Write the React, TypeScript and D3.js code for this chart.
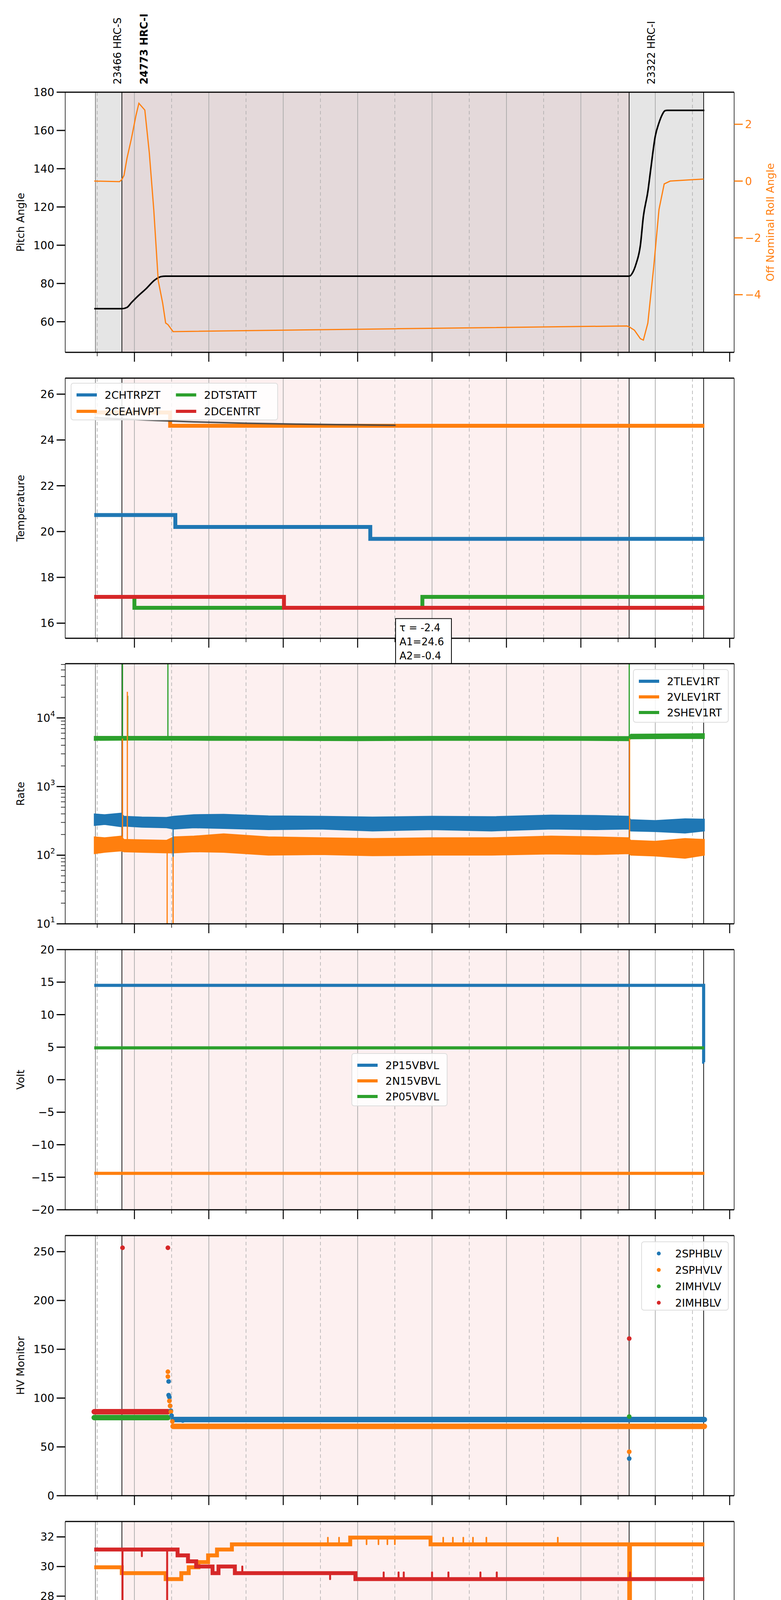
import React from "react";
import * as d3 from "d3";

// ---------- time markers (decimal hours, 2021-05-30) ----------
const obsStart = 13.476, obsA = 13.832, obsB = 20.649, obsEnd = 21.65;
const obsLabels = ["23466 HRC-S", "24773 HRC-I", "23322 HRC-I"];
const obsLabelTimes = [13.476, 13.832, 20.649];
const hourTicks = [14, 15, 16, 17, 18, 19, 20, 21, 22];
const halfTicks = [13.5, 14.5, 15.5, 16.5, 17.5, 18.5, 19.5, 20.5, 21.5];

// ---------- Panel 1: pitch / roll ----------
const pitchT = [13.46, 13.83, 13.9, 13.96, 14.05, 14.15, 14.28, 14.36, 14.42, 20.65, 20.7, 20.74, 20.8, 20.84, 20.9, 20.94, 21.0, 21.05, 21.09, 21.13, 21.16, 21.66];
const pitchV = [66.8, 66.8, 67.5, 70, 73.5, 77, 82, 83.6, 83.8, 83.8, 86, 90, 100, 115, 128, 140, 157, 164, 168, 170.3, 170.5, 170.5];
const rollT = [13.46, 13.8, 13.83, 13.86, 13.9, 13.96, 14.02, 14.06, 14.14, 14.2, 14.26, 14.32, 14.38, 14.42, 14.45, 14.52, 17.5, 20.62, 20.66, 20.72, 20.8, 20.84, 20.9, 20.98, 21.05, 21.12, 21.2, 21.5, 21.65];
const rollV = [0.0, -0.02, 0.05, 0.2, 0.8, 1.5, 2.3, 2.74, 2.5, 1.0, -1.0, -3.5, -4.3, -5.0, -5.05, -5.3, -5.2, -5.1, -5.15, -5.25, -5.55, -5.6, -5.0, -3.0, -1.0, -0.1, 0.0, 0.05, 0.07];

// ---------- Panel 2: temperature ----------
const tempNames = ["2CHTRPZT", "2CEAHVPT", "2DTSTATT", "2DCENTRT"];
const chtrT = [13.46, 14.55, 17.17, 21.66];
const chtrV = [20.72, 20.2, 19.68, 19.68];
const ceahT = [13.46, 14.48, 21.66];
const ceahV = [25.2, 24.62, 24.62];
const dtstT = [13.46, 14.0, 17.87, 21.66];
const dtstV = [17.15, 16.67, 17.15, 17.15];
const dcenT = [13.46, 16.01, 21.66];
const dcenV = [17.15, 16.67, 16.67];
const fitT = [13.46, 13.8, 14.3, 14.8, 15.5, 16.2, 17.0, 17.51];
const fitV = [24.97, 24.92, 24.85, 24.79, 24.73, 24.69, 24.66, 24.64];
const fitText = ["τ = -2.4", "A1=24.6", "A2=-0.4"];
const fitBoxT = 17.51;

// ---------- Panel 3: rates (envelopes of the noisy traces) ----------
const rateNames = ["2TLEV1RT", "2VLEV1RT", "2SHEV1RT"];
const blueBandT = [13.46, 13.6, 13.82, 13.86, 14.1, 14.43, 14.53, 14.8, 15.2, 15.8, 16.5, 17.2, 18.0, 18.8, 19.6, 20.2, 20.64, 20.67, 21.0, 21.4, 21.66];
const blueLo = [270, 280, 260, 265, 255, 250, 240, 250, 245, 235, 240, 225, 235, 225, 240, 235, 240, 225, 220, 210, 225];
const blueHi = [400, 390, 410, 370, 360, 355, 370, 390, 395, 375, 370, 360, 370, 365, 385, 380, 370, 330, 320, 340, 335];
const orangeBandT = [13.46, 13.6, 13.82, 13.86, 14.1, 14.43, 14.53, 14.8, 15.2, 15.8, 16.5, 17.2, 18.0, 18.8, 19.6, 20.2, 20.64, 20.67, 21.0, 21.4, 21.66];
const orangeLo = [105, 110, 115, 112, 110, 108, 108, 112, 110, 100, 102, 98, 100, 100, 104, 102, 105, 100, 97, 90, 100];
const orangeHi = [185, 180, 190, 170, 168, 165, 185, 190, 205, 185, 180, 175, 180, 180, 190, 185, 180, 165, 160, 175, 170];
const greenBandT = [13.46, 14.0, 15.0, 16.0, 17.0, 18.0, 19.0, 20.0, 20.64, 20.67, 21.2, 21.66];
const greenLo = [4700, 4750, 4700, 4700, 4650, 4700, 4700, 4700, 4650, 4950, 5000, 5000];
const greenHi = [5400, 5400, 5400, 5350, 5350, 5400, 5400, 5350, 5350, 5800, 5850, 5900];
const rateSpikeT = [13.84, 13.91, 14.45, 20.65, 13.84, 13.905, 14.44, 14.52, 20.655, 14.52];
const rateSpikeFrom = [5000, 5000, 5000, 5000, 150, 150, 140, 140, 140, 300];
const rateSpikeTo = [62000, 21000, 62000, 62000, 5000, 24000, 9, 9, 5000, 95];
const rateSpikeSeries = [2, 2, 2, 2, 1, 1, 1, 1, 1, 0];

// ---------- Panel 4: voltages ----------
const voltNames = ["2P15VBVL", "2N15VBVL", "2P05VBVL"];
const p15T = [13.46, 21.65, 21.66];
const p15V = [14.5, 2.7, 2.7];
const n15T = [13.46, 21.66];
const n15V = [-14.4, -14.4];
const p05T = [13.46, 21.66];
const p05V = [4.9, 4.9];

// ---------- Panel 5: HV monitor ----------
const hvNames = ["2SPHBLV", "2SPHVLV", "2IMHVLV", "2IMHBLV"];
const hvSegStart = [13.46, 13.46, 14.52, 14.52];
const hvSegEnd = [14.45, 14.45, 21.66, 21.66];
const hvSegV = [86, 80, 78, 71];
const hvSegSeries = [3, 2, 0, 1];
const hvPtT = [13.84, 14.45, 14.45, 14.45, 14.46, 14.46, 14.47, 14.47, 14.48, 14.48, 14.49, 14.49, 14.5, 14.51, 14.65, 20.65, 20.65, 20.65, 20.65];
const hvPtV = [254, 254, 127, 122, 117, 103, 101, 97, 92, 92, 87, 86, 82, 76, 77, 161, 81, 45, 38];
const hvPtSeries = [3, 3, 1, 1, 0, 0, 0, 1, 0, 1, 0, 1, 0, 1, 0, 3, 2, 1, 0];

// ---------- Panel 6: detector temps ----------
const detNames = ["2SPINATM", "2SPHVATM", "2IMINATM", "2IMHVATM"];
const spinT = [13.46, 16.74, 18.35, 21.66];
const spinV = [16.97, 16.3, 16.97, 16.97];
const spinSpT = [15.76, 16.02, 16.43, 16.52, 16.62, 18.46, 18.65, 18.78, 19.0];
const spinSpV = [16.3, 16.3, 16.3, 16.3, 16.3, 16.3, 16.3, 16.3, 16.3];
const sphvT = [13.46, 13.83, 14.42, 14.63, 14.73, 14.86, 14.99, 15.11, 15.31, 16.9, 17.98, 20.64, 20.65, 20.66, 21.66];
const sphvV = [29.95, 29.55, 29.15, 29.55, 29.95, 30.3, 30.75, 31.15, 31.5, 31.95, 31.5, 31.5, 18.6, 31.5, 31.5];
const sphvSpT = [14.98, 16.6, 16.75, 17.12, 17.28, 17.4, 17.5, 18.15, 18.28, 18.42, 18.55, 18.73, 19.69];
const sphvSpV = [30.3, 31.95, 31.95, 31.5, 31.5, 31.5, 31.5, 31.95, 31.95, 31.95, 31.95, 31.95, 31.95];
const iminT = [13.46, 14.63, 19.0, 19.24, 20.645, 20.655, 21.66];
const iminV = [17.6, 16.97, 17.6, 17.6, 15.3, 17.6, 17.6];
const iminSpT = [18.47, 19.06, 19.12, 19.18];
const iminSpV = [17.6, 16.97, 16.97, 16.97];
const imhvT = [13.46, 14.58, 14.72, 14.83, 15.05, 15.13, 15.35, 16.97, 21.66];
const imhvV = [31.15, 30.75, 30.35, 30.0, 29.55, 30.0, 29.55, 29.15, 29.15];
const imhvSpT = [13.84, 14.44, 14.1, 15.45, 16.63, 17.35, 17.55, 17.62, 18.0, 18.22, 18.65, 18.87, 20.66];
const imhvSpV = [15.3, 15.3, 30.7, 30.0, 29.15, 29.6, 29.6, 29.6, 29.6, 29.6, 29.6, 29.6, 29.6];

// ---------- Panel 7: FEA temps ----------
const feaNames = ["2FHTRMZT", "2FRADPYT", "2FEPRATM", "2FE00ATM"];
const fhtrT = [13.46, 15.64, 17.49, 19.81, 21.66];
const fhtrV = [18.15, 18.65, 19.15, 19.7, 19.7];
const fradT = [13.46, 13.99, 14.4, 14.67, 15.42, 17.03, 19.19, 21.35, 21.66];
const fradV = [13.42, 12.97, 13.42, 13.87, 14.3, 14.78, 15.25, 15.72, 15.72];
const feprT = [13.46, 15.98, 18.92, 21.66];
const feprV = [20.28, 20.97, 21.67, 21.67];
const feprSpT = [14.46];
const feprSpV = [19.0];
const fe00T = [13.46, 15.33, 16.64, 17.99, 18.1, 19.86, 21.6, 21.66];
const fe00V = [19.0, 19.27, 19.55, 19.55, 19.85, 20.15, 20.45, 20.45];
const fe00SpT = [13.84, 14.45, 20.65, 13.48, 13.7, 13.94, 15.02, 15.3, 16.05, 16.2, 16.43, 16.73, 17.9, 18.03, 18.07, 18.99, 19.09, 19.18, 19.28, 19.84, 19.93, 21.53,
  13.85, 14.01, 14.26, 14.63, 15.51, 15.91, 16.22, 16.94, 17.26, 17.41, 17.56, 17.99, 18.27, 18.48, 18.72, 18.92, 19.21, 19.62, 20.17, 20.28];
const fe00SpV = [12.5, 12.5, 23, 19.3, 19.6, 19.6, 19.6, 19.6, 19.6, 19.6, 20.2, 19.9, 19.9, 20.2, 20.5, 20.8, 20.8, 20.3, 20.8, 20.5, 20.5, 20.5,
  18.4, 18.1, 18.1, 18.4, 18.7, 18.7, 18.1, 19.0, 19.3, 19.3, 19.0, 17.2, 19.6, 19.6, 19.6, 19.3, 19.0, 19.3, 19.85, 19.85];

// ---------- layout ----------
const C = ["#1f77b4", "#ff7f0e", "#2ca02c", "#d62728"];
const FONT = "DejaVu Sans, sans-serif";
const L = 167, R = 1880, PH = 666;
const tops = [236, 968, 1699, 2431, 3163, 3895, 4627];
const x = d3.scaleLinear().domain([13.07, 22.06]).range([L, R]);

function stepVal(ts: number[], vs: number[], t: number) {
  let v = vs[0];
  for (let i = 0; i < ts.length; i++) if (ts[i] <= t) v = vs[i];
  return v;
}
const stepLine = (y: any) => d3.line<[number, number]>().x(d => x(d[0])).y(d => y(d[1])).curve(d3.curveStepAfter);
const smoothLine = (y: any) => d3.line<[number, number]>().x(d => x(d[0])).y(d => y(d[1])).curve(d3.curveMonotoneX);
const zip = (a: number[], b: number[]) => a.map((t, i) => [t, b[i]] as [number, number]);

function Background({ top, dark }: { top: number; dark?: boolean }) {
  const b = top + PH;
  return (
    <g>
      {dark ? (
        <>
          <rect x={x(obsStart)} y={top} width={x(obsEnd) - x(obsStart)} height={PH} fill="#e5e5e5" />
          <rect x={x(obsA)} y={top} width={x(obsB) - x(obsA)} height={PH} fill="#e4d9da" />
        </>
      ) : (
        <rect x={x(obsA)} y={top} width={x(obsB) - x(obsA)} height={PH} fill="#fdf0f0" />
      )}
      {hourTicks.filter(h => h < 22).map(h => <line key={h} x1={x(h)} x2={x(h)} y1={top} y2={b} stroke="#aaa" strokeWidth={1.8} />)}
      {halfTicks.map(h => <line key={h} x1={x(h)} x2={x(h)} y1={top} y2={b} stroke="#aaa" strokeWidth={1.5} strokeDasharray="9,7" />)}
      <line x1={x(obsStart)} x2={x(obsStart)} y1={top} y2={b} stroke="#777" strokeWidth={1.8} />
      {[obsA, obsB, obsEnd].map(t => <line key={t} x1={x(t)} x2={x(t)} y1={top} y2={b} stroke="#000" strokeWidth={1.8} />)}
    </g>
  );
}

function Frame({ top, y, ticks, label, fmt, log, last }: any) {
  const b = top + PH;
  const minor: number[] = [];
  if (log) for (let e = 1; e < 5; e++) for (let m = 2; m < 10; m++) { const v = m * Math.pow(10, e); if (v < y.domain()[1]) minor.push(v); }
  return (
    <g fontFamily={FONT}>
      <line x1={L} x2={R} y1={top} y2={top} stroke="#000" strokeWidth={3} />
      <line x1={L} x2={R} y1={b} y2={b} stroke="#000" strokeWidth={3} />
      <line x1={L} x2={L} y1={top} y2={b} stroke="#000" strokeWidth={1.5} />
      <line x1={R} x2={R} y1={top} y2={b} stroke="#000" strokeWidth={1.5} />
      {ticks.map((v: number) => (
        <g key={v}>
          <line x1={L - 22} x2={L} y1={y(v)} y2={y(v)} stroke="#000" strokeWidth={3} />
          {log ? (
            <text x={L - 26} y={y(v) + 10} textAnchor="end" fontSize={28}>10<tspan dy={-14} fontSize={19}>{Math.round(Math.log10(v))}</tspan></text>
          ) : (
            <text x={L - 28} y={y(v) + 10} textAnchor="end" fontSize={28}>{fmt ? fmt(v) : v}</text>
          )}
        </g>
      ))}
      {minor.map(v => <line key={v} x1={L - 11} x2={L} y1={y(v)} y2={y(v)} stroke="#000" strokeWidth={1.5} />)}
      {hourTicks.map(h => <line key={h} x1={x(h)} x2={x(h)} y1={b} y2={b + 24} stroke="#000" strokeWidth={2.5} />)}
      {halfTicks.map(h => <line key={h} x1={x(h)} x2={x(h)} y1={b} y2={b + 10} stroke="#000" strokeWidth={1.5} />)}
      {last && hourTicks.map(h => <text key={h} x={x(h)} y={b + 58} textAnchor="middle" fontSize={28}>{h}h</text>)}
      {last && halfTicks.map(h => <text key={h} x={x(h)} y={b + 36} textAnchor="middle" fontSize={17}>30</text>)}
      <text transform={`translate(${L - 105},${top + PH / 2}) rotate(-90)`} textAnchor="middle" fontSize={27}>{label}</text>
    </g>
  );
}

function Legend({ x0, y0, w, h, names, cols, dots, rowH }: any) {
  const perCol = Math.ceil(names.length / cols);
  const colW = (w - 20) / cols;
  return (
    <g fontFamily={FONT}>
      <rect x={x0} y={y0} width={w} height={h} rx={6} fill="#fff" fillOpacity={0.85} stroke="#ddd" strokeWidth={2} />
      {names.map((n: string, i: number) => {
        const c = Math.floor(i / perCol), r = i % perCol;
        const lx = x0 + 14 + c * colW, ly = y0 + 30 + r * rowH;
        return (
          <g key={n}>
            {dots ? <circle cx={lx + 30} cy={ly} r={5} fill={C[i]} /> : <line x1={lx} x2={lx + 52} y1={ly} y2={ly} stroke={C[i]} strokeWidth={8} />}
            <text x={lx + 72} y={ly + 10} fontSize={27}>{n}</text>
          </g>
        );
      })}
    </g>
  );
}

function spikes(ts: number[], vs: number[], baseT: number[], baseV: number[], y: any, color: string, w: number) {
  return ts.map((t, i) => (
    <line key={"s" + i} x1={x(t)} x2={x(t)} y1={y(stepVal(baseT, baseV, t))} y2={y(vs[i])} stroke={color} strokeWidth={w} strokeLinecap="round" />
  ));
}

export default function App() {
  const t1 = tops[0];
  const y1 = d3.scaleLinear().domain([44, 180]).range([t1 + PH, t1]);
  const y1r = d3.scaleLinear().domain([-6.03, 3.13]).range([t1 + PH, t1]);
  const t2 = tops[1];
  const y2 = d3.scaleLinear().domain([15.34, 26.7]).range([t2 + PH, t2]);
  const t3 = tops[2];
  const y3 = d3.scaleLog().domain([10, 61700]).range([t3 + PH, t3]).clamp(true);
  const t4 = tops[3];
  const y4 = d3.scaleLinear().domain([-20, 20]).range([t4 + PH, t4]);
  const t5 = tops[4];
  const y5 = d3.scaleLinear().domain([0, 266.5]).range([t5 + PH, t5]);
  const t6 = tops[5];
  const y6 = d3.scaleLinear().domain([15.48, 33.04]).range([t6 + PH, t6]).clamp(true);
  const t7 = tops[6];
  const y7 = d3.scaleLinear().domain([12.77, 22.48]).range([t7 + PH, t7]).clamp(true);

  const band = (ts: number[], lo: number[], hi: number[]) =>
    d3.area<number>().x(i => x(ts[i])).y0(i => y3(lo[i])).y1(i => y3(hi[i]))(ts.map((_, i) => i)) || "";

  const rateBands = [
    [blueBandT, blueLo, blueHi],
    [orangeBandT, orangeLo, orangeHi],
    [greenBandT, greenLo, greenHi],
  ];

  const fitX = x(fitBoxT);
  return (
    <div style={{ position: "absolute", left: 0, top: 0, width: 2000, height: 5400, overflow: "hidden", background: "#fff" }}>
    <svg width={2000} height={5400} style={{ display: "block" }}>
      <defs>
        {tops.map((t, i) => (
          <clipPath id={"c" + i} key={i}><rect x={L} y={t} width={R - L} height={PH} /></clipPath>
        ))}
      </defs>
      <Background top={t1} dark />
      <g clipPath="url(#c0)">
        <path d={smoothLine(y1)(zip(pitchT, pitchV)) || ""} fill="none" stroke="#000" strokeWidth={4} />
        <path d={d3.line<[number, number]>().x(d => x(d[0])).y(d => y1r(d[1]))(zip(rollT, rollV)) || ""} fill="none" stroke={C[1]} strokeWidth={3} />
      </g>
      <Frame top={t1} y={y1} ticks={[60, 80, 100, 120, 140, 160, 180]} label="Pitch Angle" />
      {[-4, -2, 0, 2].map(v => (
        <g key={v} fontFamily={FONT}>
          <line x1={R} x2={R + 22} y1={y1r(v)} y2={y1r(v)} stroke={C[1]} strokeWidth={3} />
          <text x={R + 28} y={y1r(v) + 10} fontSize={28} fill={C[1]}>{v < 0 ? "−" + Math.abs(v) : v}</text>
        </g>
      ))}
      <text transform={`translate(1982,${t1 + PH / 2}) rotate(-90)`} textAnchor="middle" fontSize={27} fill={C[1]} fontFamily={FONT}>Off Nominal Roll Angle</text>
      {obsLabels.map((s, i) => (
        <text key={s} transform={`translate(${x(obsLabelTimes[i]) + 66},${t1 - 20}) rotate(-90)`} fontSize={26} fontFamily={FONT} fontWeight={i === 1 ? "bold" : "normal"}>{s}</text>
      ))}

      <Background top={t2} />
      <g clipPath="url(#c1)">
        <path d={stepLine(y2)(zip(chtrT, chtrV)) || ""} fill="none" stroke={C[0]} strokeWidth={10} />
        <path d={stepLine(y2)(zip(ceahT, ceahV)) || ""} fill="none" stroke={C[1]} strokeWidth={10} />
        <path d={stepLine(y2)(zip(dtstT, dtstV)) || ""} fill="none" stroke={C[2]} strokeWidth={10} />
        <path d={stepLine(y2)(zip(dcenT, dcenV)) || ""} fill="none" stroke={C[3]} strokeWidth={10} />
        <path d={smoothLine(y2)(zip(fitT, fitV)) || ""} fill="none" stroke="#444" strokeWidth={4} opacity={0.9} />
      </g>
      <Frame top={t2} y={y2} ticks={[16, 18, 20, 22, 24, 26]} label="Temperature" />
      <Legend x0={182} y0={981} w={529} h={94} names={tempNames} cols={2} rowH={42} />
      <g fontFamily={FONT}>
        <rect x={fitX} y={y2(16.2)} width={143} height={116} fill="#fff" stroke="#000" strokeWidth={2} />
        {fitText.map((s, i) => <text key={s} x={fitX + 10} y={y2(16.2) + 32 + i * 36} fontSize={26}>{s}</text>)}
      </g>

      <Background top={t3} />
      <g clipPath="url(#c2)">
        {rateBands.map((bd, i) => <path key={i} d={band(bd[0], bd[1], bd[2])} fill={C[i]} stroke={C[i]} strokeWidth={2} />)}
        {rateSpikeT.map((t, i) => (
          <line key={i} x1={x(t)} x2={x(t)} y1={y3(rateSpikeFrom[i])} y2={y3(rateSpikeTo[i])} stroke={C[rateSpikeSeries[i]]} strokeWidth={3} />
        ))}
      </g>
      <Frame top={t3} y={y3} ticks={[10, 100, 1000, 10000]} label="Rate" log />
      <Legend x0={1622} y0={1714} w={243} h={135} names={rateNames} cols={1} rowH={40} />

      <Background top={t4} />
      <g clipPath="url(#c3)">
        <path d={stepLine(y4)(zip(p15T, p15V)) || ""} fill="none" stroke={C[0]} strokeWidth={8} />
        <path d={stepLine(y4)(zip(n15T, n15V)) || ""} fill="none" stroke={C[1]} strokeWidth={8} />
        <path d={stepLine(y4)(zip(p05T, p05V)) || ""} fill="none" stroke={C[2]} strokeWidth={8} />
      </g>
      <Frame top={t4} y={y4} ticks={[-20, -15, -10, -5, 0, 5, 10, 15, 20]} label="Volt" fmt={(v: number) => (v < 0 ? "−" + Math.abs(v) : v)} />
      <Legend x0={901} y0={2697} w={244} h={134} names={voltNames} cols={1} rowH={40} />

      <Background top={t5} />
      <g clipPath="url(#c4)">
        {hvSegStart.map((t, i) => (
          <line key={i} x1={x(t)} x2={x(hvSegEnd[i])} y1={y5(hvSegV[i])} y2={y5(hvSegV[i])} stroke={C[hvSegSeries[i]]} strokeWidth={14} strokeLinecap="round" />
        ))}
        {hvPtT.map((t, i) => <circle key={i} cx={x(t)} cy={y5(hvPtV[i])} r={6} fill={C[hvPtSeries[i]]} />)}
      </g>
      <Frame top={t5} y={y5} ticks={[0, 50, 100, 150, 200, 250]} label="HV Monitor" />
      <Legend x0={1643} y0={3179} w={222} h={175} names={hvNames} cols={1} rowH={42} dots />

      <Background top={t6} />
      <g clipPath="url(#c5)">
        <path d={stepLine(y6)(zip(spinT, spinV)) || ""} fill="none" stroke={C[0]} strokeWidth={10} />
        {spikes(spinSpT, spinSpV, spinT, spinV, y6, C[0], 4)}
        <path d={stepLine(y6)(zip(sphvT, sphvV)) || ""} fill="none" stroke={C[1]} strokeWidth={10} />
        {spikes(sphvSpT, sphvSpV, sphvT, sphvV, y6, C[1], 4)}
        <path d={stepLine(y6)(zip(iminT, iminV)) || ""} fill="none" stroke={C[2]} strokeWidth={10} />
        {spikes(iminSpT, iminSpV, iminT, iminV, y6, C[2], 4)}
        <path d={stepLine(y6)(zip(imhvT, imhvV)) || ""} fill="none" stroke={C[3]} strokeWidth={10} />
        {spikes(imhvSpT, imhvSpV, imhvT, imhvV, y6, C[3], 5)}
      </g>
      <Frame top={t6} y={y6} ticks={[16, 18, 20, 22, 24, 26, 28, 30, 32]} label="Detector Temp" />
      <Legend x0={1618} y0={4140} w={247} h={175} names={detNames} cols={1} rowH={42} />

      <Background top={t7} />
      <g clipPath="url(#c6)">
        <path d={stepLine(y7)(zip(fhtrT, fhtrV)) || ""} fill="none" stroke={C[0]} strokeWidth={10} />
        <path d={stepLine(y7)(zip(fradT, fradV)) || ""} fill="none" stroke={C[1]} strokeWidth={10} />
        <path d={stepLine(y7)(zip(feprT, feprV)) || ""} fill="none" stroke={C[2]} strokeWidth={10} />
        {spikes(feprSpT, feprSpV, feprT, feprV, y7, C[2], 4)}
        <path d={stepLine(y7)(zip(fe00T, fe00V)) || ""} fill="none" stroke={C[3]} strokeWidth={10} />
        {spikes(fe00SpT, fe00SpV, fe00T, fe00V, y7, C[3], 5)}
      </g>
      <Frame top={t7} y={y7} ticks={[14, 16, 18, 20, 22]} label="FEA Temp" last />
      <Legend x0={1615} y0={4870} w={250} h={178} names={feaNames} cols={1} rowH={42} />
      <text x={(L + R) / 2} y={5380} textAnchor="middle" fontSize={30} fontFamily={FONT}>2021-05-30 (150)</text>
    </svg>
    </div>
  );
}
